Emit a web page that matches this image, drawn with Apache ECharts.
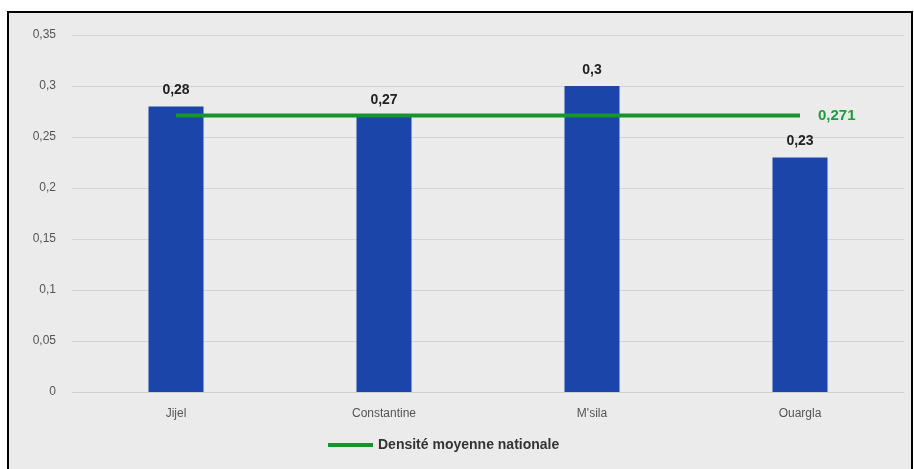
<!DOCTYPE html>
<html>
<head>
<meta charset="utf-8">
<script src="https://cdn.jsdelivr.net/npm/echarts@6/dist/echarts.min.js"></script>
<style>
  html, body { margin: 0; padding: 0; background: #fff; }
  #frame {
    position: absolute; left: 7px; top: 11px; width: 902px; height: 470px;
    border: 2px solid #000; background: #ebebeb;
  }
  #chart { position: absolute; left: 0; top: 0; width: 914px; height: 469px; }
</style>
</head>
<body>
<div id="frame"></div>
<div id="chart"></div>
<script>
// categories (wilayas)
const categories = ['Jijel', 'Constantine', "M'sila", 'Ouargla']
// density per wilaya
const densityValues = [0.28, 0.27, 0.3, 0.23]
// national average, drawn as a flat line
const nationalAverage = [0.271, 0.271, 0.271, 0.271]
const lineName = 'Densité moyenne nationale'

const fmt = v => String(v).replace('.', ',')

const chart = echarts.init(document.getElementById('chart'))
const option = {
  backgroundColor: 'transparent',
  animation: false,
  textStyle: { fontFamily: 'Liberation Sans, Arial, sans-serif' },
  grid: { left: 72, right: 10, top: 35, bottom: 77 },
  legend: {
    data: [lineName],
    bottom: 12,
    left: 323,
    icon: 'rect',
    itemWidth: 45,
    itemHeight: 4,
    itemGap: 4,
    textStyle: { color: '#333', fontSize: 14, fontWeight: 'bold' },
  },
  xAxis: {
    type: 'category',
    data: categories,
    axisLine: { lineStyle: { color: '#cfcfcf' } },
    axisTick: { show: false },
    axisLabel: { color: '#555', fontSize: 12, margin: 16 },
  },
  yAxis: {
    type: 'value',
    min: 0,
    max: 0.35,
    interval: 0.05,
    axisLine: { show: false },
    axisTick: { show: false },
    splitLine: { lineStyle: { color: '#d4d4d4' } },
    axisLabel: { color: '#555', fontSize: 12, margin: 16, formatter: v => fmt(+v.toFixed(2)) },
  },
  series: [
    {
      name: 'Densité',
      type: 'bar',
      data: densityValues,
      barWidth: 55,
      itemStyle: { color: '#1b45a8' },
      label: {
        show: true,
        position: 'top',
        distance: 9,
        color: '#222',
        fontSize: 14,
        fontWeight: 'bold',
        formatter: p => fmt(p.value),
      },
    },
    {
      name: lineName,
      type: 'line',
      data: nationalAverage,
      symbol: 'none',
      lineStyle: { color: '#16962a', width: 4 },
      itemStyle: { color: '#16962a' },
      endLabel: {
        show: true,
        distance: 18,
        color: '#1e9e3e',
        fontSize: 15,
        fontWeight: 'bold',
        formatter: p => fmt(p.value),
      },
      z: 3,
    },
  ],
}
chart.setOption(option)
</script>
</body>
</html>
